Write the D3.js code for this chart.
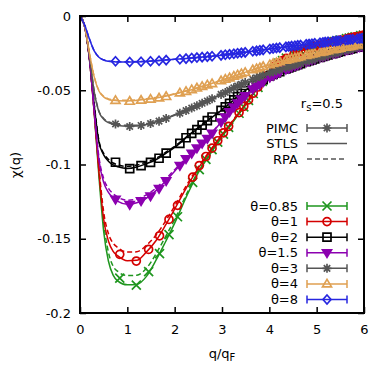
<!DOCTYPE html>
<html>
<head>
<meta charset="utf-8">
<script src="https://cdn.jsdelivr.net/npm/d3@7"></script>
<style>
  body { margin: 0; background: #fff; }
  text { font-family: "DejaVu Sans", sans-serif; font-size: 13px; fill: #000; }
</style>
</head>
<body>
<svg></svg>
<script>
'use strict';

var SVG_SIZE = {width: 390, height: 379};
var PLOT = {left: 80, right: 364, top: 16, bottom: 313};

// tick values
var X_TICKS = [0, 1, 2, 3, 4, 5, 6];
var Y_TICKS = [0, -0.05, -0.1, -0.15, -0.2];

// legend labels
var THETA_LABELS = ['θ=0.85', 'θ=1', 'θ=2', 'θ=1.5', 'θ=3', 'θ=4', 'θ=8'];
var METHOD_LABELS = ['PIMC', 'STLS', 'RPA'];

// q grid of the STLS / RPA curves
var Q_LINE = [0, 0.1, 0.2, 0.3, 0.4, 0.5, 0.6, 0.7, 0.8, 1.0, 1.2, 1.4, 1.6, 1.8, 2.0, 2.25, 2.5, 2.75, 3.0, 3.25, 3.5, 3.75, 4.0, 4.25, 4.5, 5.0, 5.5, 6.0];

var STLS_085 = [0, -0.0072, -0.029, -0.065, -0.108, -0.145, -0.165, -0.1745, -0.1785, -0.181, -0.1808, -0.1755, -0.1648, -0.1525, -0.1395, -0.1215, -0.1055, -0.093, -0.081, -0.0705, -0.0595, -0.0485, -0.038, -0.0307, -0.026, -0.02, -0.0162, -0.0128];
var RPA_085  = [0, -0.0072, -0.029, -0.064, -0.104, -0.139, -0.159, -0.1685, -0.172, -0.1748, -0.1745, -0.170, -0.1605, -0.149, -0.137, -0.120, -0.1045, -0.0925, -0.0807, -0.0703, -0.0594, -0.0484, -0.038, -0.0307, -0.026, -0.02, -0.0162, -0.0128];
var STLS_1   = [0, -0.0072, -0.029, -0.065, -0.105, -0.137, -0.1515, -0.1585, -0.1615, -0.1648, -0.1645, -0.159, -0.1515, -0.1412, -0.130, -0.1155, -0.1025, -0.091, -0.080, -0.0698, -0.0592, -0.0482, -0.038, -0.0307, -0.026, -0.02, -0.0162, -0.0128];
var RPA_1    = [0, -0.0072, -0.029, -0.064, -0.102, -0.132, -0.1465, -0.153, -0.156, -0.159, -0.1588, -0.1545, -0.1478, -0.1385, -0.128, -0.114, -0.1015, -0.0905, -0.0797, -0.0696, -0.0591, -0.0481, -0.038, -0.0307, -0.026, -0.02, -0.0162, -0.0128];
var STLS_2   = [0, -0.0072, -0.028, -0.060, -0.085, -0.0935, -0.0978, -0.1003, -0.1015, -0.1027, -0.1017, -0.0995, -0.0968, -0.0928, -0.0885, -0.0818, -0.0755, -0.0692, -0.0632, -0.0565, -0.050, -0.0448, -0.0405, -0.0368, -0.0338, -0.0283, -0.0238, -0.020];
var RPA_2    = [0, -0.0072, -0.028, -0.059, -0.084, -0.0925, -0.0965, -0.099, -0.1002, -0.1013, -0.1004, -0.0983, -0.0958, -0.092, -0.0878, -0.0813, -0.0751, -0.0689, -0.063, -0.0564, -0.0499, -0.0448, -0.0405, -0.0368, -0.0338, -0.0283, -0.0238, -0.020];
var STLS_15  = [0, -0.0072, -0.029, -0.064, -0.097, -0.112, -0.1188, -0.1225, -0.1248, -0.1268, -0.1258, -0.1228, -0.1178, -0.1115, -0.1045, -0.096, -0.0885, -0.080, -0.0708, -0.0615, -0.0535, -0.0468, -0.0415, -0.0372, -0.034, -0.0283, -0.0237, -0.020];
var RPA_15   = [0, -0.0072, -0.029, -0.063, -0.095, -0.1095, -0.116, -0.1197, -0.122, -0.124, -0.1232, -0.1205, -0.116, -0.110, -0.1035, -0.0954, -0.0879, -0.0797, -0.0706, -0.0614, -0.0534, -0.0468, -0.0415, -0.0372, -0.034, -0.0283, -0.0237, -0.020];
var STLS_3   = [0, -0.007, -0.027, -0.051, -0.0645, -0.0695, -0.0718, -0.073, -0.0737, -0.0742, -0.074, -0.073, -0.0714, -0.0692, -0.0668, -0.0635, -0.060, -0.0563, -0.0525, -0.0488, -0.0452, -0.0416, -0.0383, -0.0357, -0.0333, -0.0285, -0.024, -0.0198];
var RPA_3    = [0, -0.007, -0.027, -0.0505, -0.064, -0.069, -0.0712, -0.0724, -0.0731, -0.0736, -0.0735, -0.0725, -0.071, -0.0689, -0.0665, -0.0633, -0.0598, -0.0562, -0.0524, -0.0487, -0.0451, -0.0416, -0.0383, -0.0357, -0.0333, -0.0285, -0.024, -0.0198];
var STLS_4   = [0, -0.007, -0.025, -0.041, -0.0505, -0.0545, -0.0562, -0.0568, -0.0571, -0.0572, -0.0568, -0.0561, -0.0552, -0.054, -0.0525, -0.0505, -0.0482, -0.0458, -0.0432, -0.0405, -0.0378, -0.0352, -0.0328, -0.0306, -0.0287, -0.025, -0.0215, -0.0187];
var RPA_4    = [0, -0.007, -0.025, -0.0408, -0.0502, -0.0541, -0.0558, -0.0564, -0.0567, -0.0568, -0.0565, -0.0558, -0.0549, -0.0538, -0.0523, -0.0503, -0.0481, -0.0457, -0.0431, -0.0405, -0.0378, -0.0352, -0.0328, -0.0306, -0.0287, -0.025, -0.0215, -0.0187];
var STLS_8   = [0, -0.0062, -0.0155, -0.0235, -0.0278, -0.0297, -0.0305, -0.0308, -0.031, -0.031, -0.0309, -0.0306, -0.0302, -0.0297, -0.0292, -0.0286, -0.0279, -0.0272, -0.0264, -0.0254, -0.0244, -0.0233, -0.0222, -0.0212, -0.0202, -0.0183, -0.0165, -0.0148];
var RPA_8    = [0, -0.0062, -0.0155, -0.0234, -0.0277, -0.0295, -0.0303, -0.0306, -0.0308, -0.0308, -0.0307, -0.0305, -0.0301, -0.0296, -0.0291, -0.0285, -0.0278, -0.0271, -0.0263, -0.0254, -0.0244, -0.0233, -0.0222, -0.0212, -0.0202, -0.0183, -0.0165, -0.0148];

// PIMC q points (two box sizes)
var Q_PIMC_A = [0.75, 1.05, 1.29, 1.49, 1.67, 1.82, 2.11, 2.24, 2.36, 2.47, 2.58, 2.69, 2.79, 2.98, 3.07, 3.16, 3.25, 3.33, 3.41, 3.49, 3.65, 3.73, 3.80, 3.87, 4.01, 4.08, 4.15, 4.22, 4.35, 4.41, 4.47, 4.54, 4.60, 4.66, 4.78, 4.84, 4.90, 4.96, 5.07, 5.13, 5.18, 5.24, 5.34, 5.40, 5.45, 5.50, 5.61, 5.66, 5.71, 5.76, 5.86, 5.91, 5.96];
var Q_PIMC_B = [0.84, 1.19, 1.45, 1.68, 1.88, 2.06, 2.38, 2.52, 2.66, 2.79, 2.91, 3.03, 3.14, 3.36, 3.46, 3.56, 3.66, 3.76, 3.85, 3.94, 4.12, 4.20, 4.28, 4.36, 4.52, 4.60, 4.67, 4.82, 4.89, 4.96, 5.03, 5.10, 5.17, 5.31, 5.37, 5.44, 5.50, 5.63, 5.69, 5.75, 5.81, 5.93, 5.99];

var PIMC_085 = [-0.1765, -0.1812, -0.1722, -0.160, -0.1472, -0.1352, -0.112, -0.1035, -0.0965, -0.090, -0.085, -0.0795, -0.075, -0.0655, -0.0612, -0.0568, -0.0522, -0.048, -0.044, -0.0405, -0.0338, -0.0318, -0.030, -0.0284, -0.0257, -0.0246, -0.0236, -0.0219, -0.0212, -0.0205, -0.0199, -0.0193, -0.0187, -0.0177, -0.0172, -0.0167, -0.0162, -0.0153, -0.0148, -0.0144, -0.014, -0.0132, -0.0128];
var PIMC_1   = [-0.1605, -0.165, -0.1572, -0.148, -0.137, -0.1275, -0.1085, -0.1007, -0.0946, -0.089, -0.084, -0.0787, -0.0743, -0.065, -0.0608, -0.0565, -0.052, -0.0478, -0.0438, -0.0403, -0.0337, -0.0317, -0.030, -0.0285, -0.0258, -0.0247, -0.0237, -0.022, -0.0213, -0.0206, -0.020, -0.0194, -0.0188, -0.0178, -0.0173, -0.0168, -0.0163, -0.0154, -0.0149, -0.0145, -0.0141, -0.0133, -0.0129];
var PIMC_2   = [-0.0985, -0.1028, -0.1007, -0.0986, -0.0958, -0.0924, -0.0858, -0.082, -0.079, -0.0765, -0.0735, -0.0705, -0.068, -0.0635, -0.0612, -0.0588, -0.0565, -0.0543, -0.0522, -0.0502, -0.0468, -0.0453, -0.044, -0.0428, -0.0404, -0.0394, -0.0384, -0.0374, -0.0357, -0.035, -0.0343, -0.0335, -0.0328, -0.0321, -0.0308, -0.0301, -0.0295, -0.0289, -0.0278, -0.0272, -0.0267, -0.0262, -0.0253, -0.0248, -0.0243, -0.0239, -0.023, -0.0226, -0.0222, -0.0218, -0.021, -0.0207, -0.0203];
var PIMC_15  = [-0.1235, -0.127, -0.1245, -0.1212, -0.1163, -0.111, -0.1007, -0.0962, -0.0925, -0.089, -0.0858, -0.0825, -0.079, -0.0715, -0.068, -0.0646, -0.0613, -0.0586, -0.056, -0.0537, -0.0492, -0.0474, -0.0458, -0.0444, -0.0413, -0.0401, -0.039, -0.0379, -0.036, -0.0352, -0.0344, -0.0336, -0.0329, -0.0322, -0.0309, -0.0302, -0.0296, -0.029, -0.0279, -0.0273, -0.0268, -0.0263, -0.0254, -0.0249, -0.0244, -0.024, -0.0231, -0.0227, -0.0223, -0.0219, -0.0211, -0.0207, -0.0204];
var PIMC_3   = [-0.0727, -0.0744, -0.0737, -0.0724, -0.0708, -0.069, -0.0655, -0.0637, -0.062, -0.0605, -0.0588, -0.0572, -0.0557, -0.0528, -0.0515, -0.050, -0.0483, -0.0471, -0.046, -0.0448, -0.0426, -0.0416, -0.0407, -0.0398, -0.0382, -0.0375, -0.0367, -0.036, -0.0347, -0.0341, -0.0336, -0.0329, -0.0323, -0.0318, -0.0306, -0.030, -0.0295, -0.0289, -0.0279, -0.0274, -0.0269, -0.0264, -0.0254, -0.0249, -0.0244, -0.024, -0.0231, -0.0227, -0.0223, -0.0219, -0.021, -0.0206, -0.0201];
var PIMC_4   = [-0.0568, -0.0574, -0.0567, -0.056, -0.0552, -0.0542, -0.0518, -0.0507, -0.0496, -0.0485, -0.0474, -0.0464, -0.0455, -0.0436, -0.0426, -0.0416, -0.0405, -0.0396, -0.0388, -0.0379, -0.0362, -0.0354, -0.0347, -0.034, -0.0327, -0.032, -0.0314, -0.0308, -0.0297, -0.0292, -0.0287, -0.0282, -0.0278, -0.0273, -0.0265, -0.026, -0.0256, -0.0252, -0.0245, -0.0241, -0.0237, -0.0233, -0.0227, -0.0223, -0.022, -0.0217, -0.021, -0.0207, -0.0204, -0.0201, -0.0195, -0.0192, -0.0189];
var PIMC_8   = [-0.0305, -0.031, -0.0308, -0.0305, -0.0301, -0.0297, -0.0291, -0.0287, -0.0283, -0.028, -0.0277, -0.0274, -0.0271, -0.0265, -0.0261, -0.0258, -0.0254, -0.0251, -0.0248, -0.0245, -0.0238, -0.0235, -0.0231, -0.0228, -0.0222, -0.0219, -0.0216, -0.0213, -0.0208, -0.0206, -0.0203, -0.020, -0.0198, -0.0196, -0.0191, -0.0189, -0.0187, -0.0184, -0.018, -0.0178, -0.0176, -0.0174, -0.0171, -0.0169, -0.0167, -0.0165, -0.0161, -0.016, -0.0158, -0.0156, -0.0153, -0.0152, -0.015];

// styles (order = legend order = drawing order)
var COLORS = ['#1f961f', '#d40000', '#000000', '#8c00b0', '#555555', '#dfa052', '#2626e0'];
var MARKERS = ['times', 'circle', 'square', 'tridown', 'star', 'triup', 'diamond'];

var MARKER_PATHS = {
  times: 'M-4.5,-4.5L4.5,4.5M-4.5,4.5L4.5,-4.5',
  circle: 'M4,0A4,4 0 1,1 -4,0A4,4 0 1,1 4,0Z',
  square: 'M-4,-4H4V4H-4Z',
  tridown: 'M-4.5,-3L4.5,-3L0,4.5Z',
  star: 'M-4.5,0H4.5M0,-4.5V4.5M-3.2,-3.2L3.2,3.2M-3.2,3.2L3.2,-3.2',
  triup: 'M-4.5,3L4.5,3L0,-4.5Z',
  diamond: 'M0,-4.5L4,0L0,4.5L-4,0Z'
};

var series = [
  {q: Q_PIMC_B, pimc: PIMC_085, stls: STLS_085, rpa: RPA_085},
  {q: Q_PIMC_B, pimc: PIMC_1, stls: STLS_1, rpa: RPA_1},
  {q: Q_PIMC_A, pimc: PIMC_2, stls: STLS_2, rpa: RPA_2},
  {q: Q_PIMC_A, pimc: PIMC_15, stls: STLS_15, rpa: RPA_15},
  {q: Q_PIMC_A, pimc: PIMC_3, stls: STLS_3, rpa: RPA_3},
  {q: Q_PIMC_A, pimc: PIMC_4, stls: STLS_4, rpa: RPA_4},
  {q: Q_PIMC_A, pimc: PIMC_8, stls: STLS_8, rpa: RPA_8}
];

var svg = d3.select('svg')
  .attr('width', SVG_SIZE.width).attr('height', SVG_SIZE.height);

var xScale = d3.scaleLinear().domain([0, 6]).range([PLOT.left, PLOT.right]);
var yScale = d3.scaleLinear().domain([-0.2, 0]).range([PLOT.bottom, PLOT.top]);

svg.append('clipPath').attr('id', 'clip')
  .append('rect')
  .attr('x', PLOT.left).attr('y', PLOT.top)
  .attr('width', PLOT.right - PLOT.left).attr('height', PLOT.bottom - PLOT.top);

var line = d3.line()
  .x(function(d){ return xScale(d[0]); })
  .y(function(d){ return yScale(d[1]); })
  .curve(d3.curveMonotoneX);

function marker(sel, type, color) {
  var filled = type === 'tridown';
  sel.append('path')
    .attr('d', MARKER_PATHS[type])
    .attr('fill', filled ? color : 'none')
    .attr('stroke', color)
    .attr('stroke-width', 1.7)
    .attr('stroke-linejoin', 'miter');
}

var plot = svg.append('g').attr('clip-path', 'url(#clip)');

series.forEach(function(s, i) {
  var g = plot.append('g');
  var color = COLORS[i];
  g.append('path')
    .attr('d', line(d3.zip(Q_LINE, s.rpa)))
    .attr('fill', 'none').attr('stroke', color)
    .attr('stroke-width', 1.5).attr('stroke-dasharray', '5,3');
  g.append('path')
    .attr('d', line(d3.zip(Q_LINE, s.stls)))
    .attr('fill', 'none').attr('stroke', color)
    .attr('stroke-width', 1.5);
  g.selectAll('g.pt').data(d3.zip(s.q, s.pimc)).enter()
    .append('g').attr('class', 'pt')
    .attr('transform', function(d){ return 'translate(' + xScale(d[0]) + ',' + yScale(d[1]) + ')'; })
    .each(function(){ marker(d3.select(this), MARKERS[i], color); });
});

// axes with inward ticks on all four sides
function fmt(d) { return d === 0 ? '0' : String(d); }

svg.append('g')
  .attr('transform', 'translate(0,' + PLOT.bottom + ')')
  .call(d3.axisBottom(xScale).tickValues(X_TICKS).tickFormat(fmt)
    .tickSizeInner(-6).tickSizeOuter(0).tickPadding(12));
svg.append('g')
  .attr('transform', 'translate(0,' + PLOT.top + ')')
  .call(d3.axisTop(xScale).tickValues(X_TICKS).tickFormat('')
    .tickSizeInner(-6).tickSizeOuter(0));
svg.append('g')
  .attr('transform', 'translate(' + PLOT.left + ',0)')
  .call(d3.axisLeft(yScale).tickValues(Y_TICKS).tickFormat(fmt)
    .tickSizeInner(-6).tickSizeOuter(0).tickPadding(9));
svg.append('g')
  .attr('transform', 'translate(' + PLOT.right + ',0)')
  .call(d3.axisRight(yScale).tickValues(Y_TICKS).tickFormat('')
    .tickSizeInner(-6).tickSizeOuter(0));

svg.selectAll('.domain').remove();
svg.selectAll('.tick line').attr('stroke', '#000').attr('stroke-width', 1.5);
svg.selectAll('.tick text')
  .style('font-family', '"DejaVu Sans", sans-serif').style('font-size', '13px').attr('fill', '#000');

svg.append('rect')
  .attr('x', PLOT.left).attr('y', PLOT.top)
  .attr('width', PLOT.right - PLOT.left).attr('height', PLOT.bottom - PLOT.top)
  .attr('fill', 'none').attr('stroke', '#000').attr('stroke-width', 2);

// axis titles
svg.append('text')
  .attr('transform', 'translate(20,165) rotate(-90)')
  .attr('text-anchor', 'middle')
  .text('χ(q)');
var xt = svg.append('text')
  .attr('x', 222).attr('y', 358)
  .attr('text-anchor', 'middle');
xt.append('tspan').text('q/q');
xt.append('tspan').attr('dy', 3).style('font-size', '10px').text('F');

// legend
var LEG = {textX: 298, x0: 307, x1: 347, xm: 327};

var rs = svg.append('text').attr('x', 343).attr('y', 108).attr('text-anchor', 'end');
rs.append('tspan').text('r');
rs.append('tspan').attr('dy', 3).style('font-size', '10px').text('s');
rs.append('tspan').attr('dy', -3).text('=0.5');

var methodY = d3.scalePoint().domain(METHOD_LABELS).range([128, 159]);
METHOD_LABELS.forEach(function(m) {
  var y = methodY(m);
  svg.append('text').attr('x', LEG.textX).attr('y', y).attr('dy', '0.35em')
    .attr('text-anchor', 'end').text(m);
  var ln = svg.append('line')
    .attr('x1', LEG.x0).attr('x2', LEG.x1).attr('y1', y).attr('y2', y)
    .attr('stroke', '#555').attr('stroke-width', 1.5);
  if (m === 'RPA') ln.attr('stroke-dasharray', '5,3');
  if (m === 'PIMC') {
    svg.append('path')
      .attr('d', 'M' + LEG.x0 + ',' + (y - 4) + 'V' + (y + 4) + 'M' + LEG.x1 + ',' + (y - 4) + 'V' + (y + 4))
      .attr('stroke', '#555').attr('stroke-width', 1.5);
    marker(svg.append('g').attr('transform', 'translate(' + LEG.xm + ',' + y + ')'), 'star', '#555');
  }
});

var thetaY = d3.scalePoint().domain(THETA_LABELS).range([206, 299.5]);
THETA_LABELS.forEach(function(t, i) {
  var y = thetaY(t);
  var color = COLORS[i];
  svg.append('text').attr('x', LEG.textX).attr('y', y).attr('dy', '0.35em')
    .attr('text-anchor', 'end').text(t);
  svg.append('path')
    .attr('d', 'M' + LEG.x0 + ',' + y + 'H' + LEG.x1 +
      'M' + LEG.x0 + ',' + (y - 4) + 'V' + (y + 4) + 'M' + LEG.x1 + ',' + (y - 4) + 'V' + (y + 4))
    .attr('fill', 'none').attr('stroke', color).attr('stroke-width', 1.5);
  var g = svg.append('g').attr('transform', 'translate(' + LEG.xm + ',' + y + ')');
  marker(g, MARKERS[i], color);
});
</script>
</body>
</html>
